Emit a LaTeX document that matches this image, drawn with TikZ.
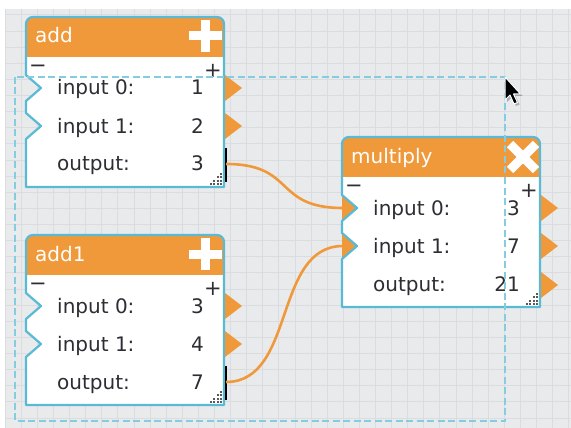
\documentclass[tikz,border=0pt]{standalone}
\usepackage{fontspec}
\setmainfont{DejaVu Sans}
\usepackage{tikz}
\usetikzlibrary{positioning}
\definecolor{boxorange}{RGB}{240,153,58}
\definecolor{boxblue}{RGB}{88,186,212}
\definecolor{selblue}{RGB}{132,204,224}
\definecolor{gridbg}{RGB}{233,234,236}
\definecolor{gridline}{RGB}{219,220,223}
\definecolor{textgrey}{RGB}{45,45,52}
\tikzset{
    gridrule/.style={draw=gridline, line width=1pt},
    rowlabel/.style={anchor=base west, inner sep=0pt, text=textgrey, font=\fontsize{20}{24}\selectfont},
    rowvalue/.style={anchor=base east, inner sep=0pt, text=textgrey, font=\fontsize{20}{24}\selectfont},
    blocktitle/.style={anchor=base west, inner sep=0pt, text=white, font=\fontsize{20}{24}\selectfont},
    sign/.style={inner sep=0pt, text=textgrey, font=\fontsize{21}{24}\selectfont},
    border/.style={draw=boxblue, line width=2.2pt, line join=round},
    plug/.style={fill=boxorange},
    wire/.style={draw=boxorange, line width=2.6pt},
    linkbar/.style={draw=black, line width=2pt},
    griprgb/.style={fill=black!65},
    icon/.style={draw=white, line width=9pt},
    selection/.style={draw=selblue, line width=2.8pt, dash pattern=on 7pt off 3.5pt},
}
\newcommand\blockshape[2]{(#1,#2+13) -- (#1,#2+58) -- (#1+15,#2+71) -- (#1,#2+84) -- (#1,#2+96) -- (#1+15,#2+109) -- (#1,#2+122) -- (#1,#2+170) -- (#1+198,#2+170) -- (#1+198,#2+13) [rounded corners=7pt] -- (#1+198,#2) -- (#1,#2) -- cycle}

\begin{document}
\begin{tikzpicture}[x=1pt,y=-1pt]
    \useasboundingbox (0,0) rectangle (571,428);
    \fill[white] (0,0) rectangle (571,428);
    \fill[gridbg] (5,9) rectangle (571,428);
    \foreach \k in {0,...,35} \draw[gridrule] (5.2+16.1*\k,9) -- (5.2+16.1*\k,428);
    \foreach \k in {0,...,25} \draw[gridrule] (5,15+16.12*\k) -- (571,15+16.12*\k);

    \fill[plug] (342,195) -- (357,208) -- (342,221) -- cycle;
    \fill[plug] (342,233) -- (357,246) -- (342,259) -- cycle;

    \foreach \blk/\xa/\ya/\title/\va/\vb/\vc in {add/26/17/add/1/2/3, add1/26/235/add1/3/4/7, mult/342/137/multiply/3/7/21}{
        \fill[white] \blockshape{\xa}{\ya};
        \begin{scope}
            \clip \blockshape{\xa}{\ya};
            \fill[boxorange] (\xa,\ya) rectangle (\xa+198,\ya+40);
        \end{scope}
        \draw[border] \blockshape{\xa}{\ya};
        \node[blocktitle] (\blk-title) at (\xa+9,\ya+26) {\title};
        \node[sign] (\blk-minus) at (\xa+12,\ya+52) {−};
        \node[sign] (\blk-plus) at (\xa+187,\ya+54) {+};
        \node[rowlabel] (\blk-lab0) at (\xa+31,\ya+78) {input 0:};
        \node[rowlabel] (\blk-lab1) at (\xa+31,\ya+116) {input 1:};
        \node[rowlabel] (\blk-lab2) at (\xa+31,\ya+154) {output:};
        \node[rowvalue] (\blk-val0) at (\xa+178,\ya+78) {\va};
        \node[rowvalue] (\blk-val1) at (\xa+178,\ya+116) {\vb};
        \node[rowvalue] (\blk-val2) at (\xa+178,\ya+154) {\vc};
        \foreach \dx/\dy in {0/0,1/0,2/0,3/0,0/1,1/1,2/1,0/2,1/2,0/3}
            \fill[griprgb] (\xa+194-3.5*\dx,\ya+166-3.5*\dy) rectangle ++(2.2,2.2);
        \fill[plug] (\xa+199,\ya+58) -- (\xa+216,\ya+71) -- (\xa+199,\ya+84) -- cycle;
        \fill[plug] (\xa+199,\ya+96) -- (\xa+216,\ya+109) -- (\xa+199,\ya+122) -- cycle;
    }
    \fill[plug] (541,272) -- (558,285) -- (541,298) -- cycle;

    \draw[icon] (189,36) -- (222,36) (205.5,20) -- (205.5,52);
    \draw[icon] (189,254) -- (222,254) (205.5,238) -- (205.5,270);
    \draw[icon] (510,144) -- (536,170) (510,170) -- (536,144);

    \coordinate (add-out) at (226,164);
    \coordinate (add1-out) at (226,382);
    \coordinate (mult-in0) at (343,208);
    \coordinate (mult-in1) at (343,246);
    \draw[linkbar] (226,148) -- (226,182);
    \draw[linkbar] (226,366) -- (226,400);
    \draw[wire] (add-out) .. controls +(70,0) and +(-70,0) .. (mult-in0);
    \draw[wire] (add1-out) .. controls +(70,0) and +(-70,0) .. (mult-in1);

    \draw[selection] (15,77) rectangle (505,421);

    \fill[black, opacity=0.25] (507,79) -- ++(0,23) -- ++(5,-5) -- ++(4,9) -- ++(3.5,-1.5) -- ++(-4,-8.5) -- ++(7,0) -- cycle;
    \filldraw[fill=black, draw=white, line width=1pt, line join=round] (505,77) -- ++(0,23) -- ++(5,-5) -- ++(4,9) -- ++(3.5,-1.5) -- ++(-4,-8.5) -- ++(7,0) -- cycle;
\end{tikzpicture}
\end{document}
